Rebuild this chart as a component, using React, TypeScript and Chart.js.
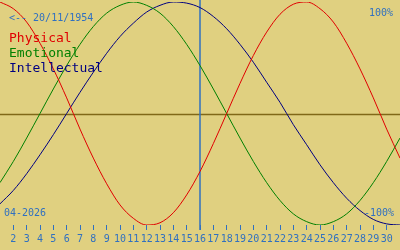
import { useEffect, useRef } from "react";
import { Chart, registerables } from "chart.js";

Chart.register(...registerables);

const days = [1, 2, 3, 4, 5, 6, 7, 8, 9, 10, 11, 12, 13, 14, 15, 16, 17, 18, 19, 20, 21, 22, 23, 24, 25, 26, 27, 28, 29, 30, 31];
const physical = [100, 94, 82, 63, 40, 14, -14, -40, -63, -82, -94, -100, -98, -89, -73, -52, -27, 0, 27, 52, 73, 89, 98, 100, 94, 82, 63, 40, 14, -14, -40];
const emotional = [-62, -43, -22, 0, 22, 43, 62, 78, 90, 97, 100, 97, 90, 78, 62, 43, 22, 0, -22, -43, -62, -78, -90, -97, -100, -97, -90, -78, -62, -43, -22];
const intellectual = [-81, -69, -54, -37, -19, 0, 19, 37, 54, 69, 81, 91, 97, 100, 99, 95, 87, 76, 62, 46, 28, 10, -10, -28, -46, -62, -76, -87, -95, -99, -100];
const seriesNames = ["Physical", "Emotional", "Intellectual"];
const seriesColors = ["#E00000", "#008000", "#000080"];
const birthLabel = "<-- 20/11/1954";
const monthLabel = "04-2026";
const topLabel = "100%";
const bottomLabel = "-100%";
const todayDay = 16;

const BG = "#E0D080";
const BLUE = "#3070C0";
const OLIVE = "#806818";
const MONO = '"DejaVu Sans Mono", "Liberation Mono", monospace';

const decor = {
  id: "decor",
  beforeDraw(chart: any) {
    const { ctx, width, height } = chart;
    ctx.save();
    ctx.fillStyle = BG;
    ctx.fillRect(0, 0, width, height);
    ctx.restore();
  },
  beforeDatasetsDraw(chart: any) {
    const { ctx, chartArea, scales, width } = chart;
    const y0 = Math.round(scales.y.getPixelForValue(0));
    const xt = Math.round(scales.x.getPixelForValue(todayDay));
    ctx.save();
    ctx.strokeStyle = OLIVE;
    ctx.lineWidth = 1.5;
    ctx.beginPath();
    ctx.moveTo(0, y0 + 0.5);
    ctx.lineTo(width, y0 + 0.5);
    ctx.stroke();
    ctx.strokeStyle = BLUE;
    ctx.lineWidth = 1.5;
    ctx.beginPath();
    ctx.moveTo(xt, 0);
    ctx.lineTo(xt, chartArea.bottom + 5);
    ctx.stroke();
    ctx.restore();
  },
  afterDatasetsDraw(chart: any) {
    const { ctx } = chart;
    ctx.save();
    ctx.textBaseline = "alphabetic";
    ctx.font = `10px ${MONO}`;
    ctx.fillStyle = BLUE;
    ctx.textAlign = "left";
    ctx.fillText(birthLabel, 9, 21);
    ctx.fillText(monthLabel, 4, 216);
    ctx.textAlign = "right";
    ctx.fillText(topLabel, 393, 16);
    ctx.fillText(bottomLabel, 394, 216);
    ctx.textAlign = "left";
    ctx.font = `13px ${MONO}`;
    chart.data.datasets.forEach((ds: any, i: number) => {
      ctx.fillStyle = ds.borderColor;
      ctx.fillText(ds.label, 9, 42 + i * 15);
    });
    ctx.restore();
  },
};

export default function App() {
  const ref = useRef<HTMLCanvasElement | null>(null);
  useEffect(() => {
    document.body.style.margin = "0";
    const series = [physical, emotional, intellectual];
    const chart = new Chart(ref.current as HTMLCanvasElement, {
      type: "line",
      data: {
        datasets: series.map((vals, i) => ({
          label: seriesNames[i],
          data: days.map((d, j) => ({ x: d, y: vals[j] })),
          borderColor: seriesColors[i],
          borderWidth: 1,
          pointRadius: 0,
          fill: false,
          cubicInterpolationMode: "monotone" as const,
        })),
      },
      options: {
        responsive: false,
        animation: false,
        devicePixelRatio: 1,
        layout: { padding: { top: 2, bottom: 2, left: 0, right: 0 } },
        plugins: { legend: { display: false }, tooltip: { enabled: false } },
        scales: {
          x: {
            type: "linear",
            min: days[0],
            max: days[days.length - 1],
            afterBuildTicks: (scale: any) => {
              scale.ticks = scale.ticks.filter((t: any) => t.value >= 2 && t.value <= 30);
            },
            ticks: {
              stepSize: 1,
              autoSkip: false,
              maxRotation: 0,
              color: BLUE,
              padding: 3,
              font: { family: MONO, size: 10 },
            },
            grid: { drawOnChartArea: false, drawTicks: true, tickLength: 5, color: BLUE, lineWidth: 1 },
            border: { display: false },
          },
          y: { display: false, min: -100, max: 100 },
        },
      },
      plugins: [decor],
    });
    return () => chart.destroy();
  }, []);
  return (
    <div style={{ width: 400, height: 250 }}>
      <canvas ref={ref} width={400} height={250} style={{ display: "block" }} />
    </div>
  );
}
